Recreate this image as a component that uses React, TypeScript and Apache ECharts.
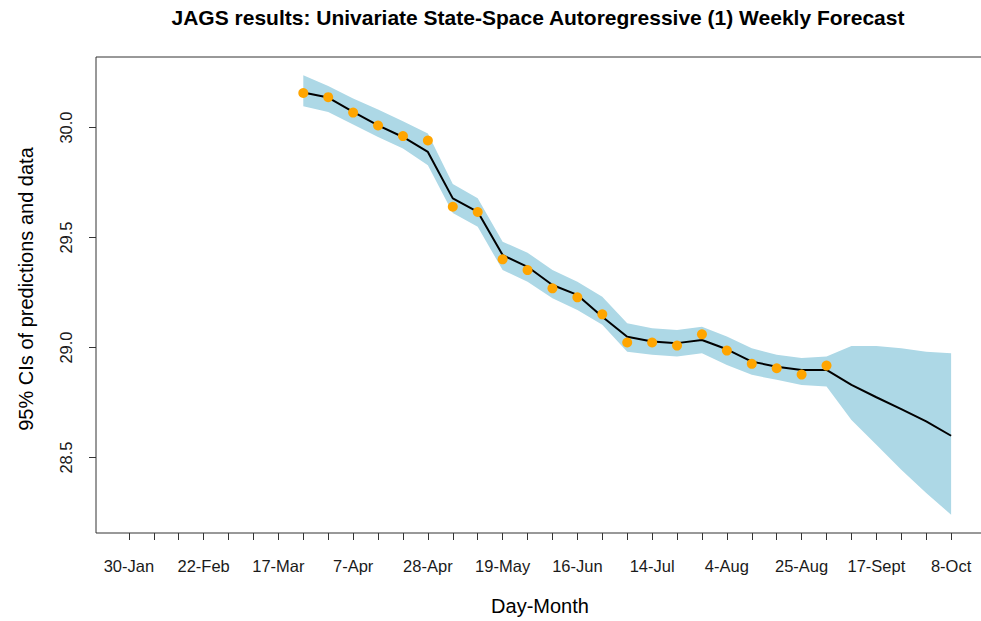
import React, { useEffect, useRef } from "react";
import * as echarts from "echarts";

// x-axis tick labels (every 3 weeks, weeks 0..33)
const tickLabels = [
  "30-Jan", "22-Feb", "17-Mar", "7-Apr", "28-Apr", "19-May",
  "16-Jun", "14-Jul", "4-Aug", "25-Aug", "17-Sept", "8-Oct",
];
const yTicks = [28.5, 29.0, 29.5, 30.0];

// first week index with data
const firstWeek = 7;

// observed data (weeks 7..28)
const observed = [
  30.157, 30.138, 30.068, 30.009, 29.961, 29.941, 29.640, 29.616, 29.401, 29.352,
  29.269, 29.228, 29.151, 29.023, 29.023, 29.009, 29.060, 28.986, 28.926, 28.906,
  28.877, 28.918,
];

// model predictions (weeks 7..33)
const predicted = [
  30.159, 30.136, 30.071, 30.010, 29.957, 29.889, 29.678, 29.617, 29.420, 29.367,
  29.284, 29.239, 29.140, 29.049, 29.027, 29.020, 29.034, 28.992, 28.936, 28.913,
  28.898, 28.898, 28.830, 28.774, 28.720, 28.664, 28.599,
];

// 95% CI upper bound (weeks 7..33)
const upper = [
  30.237, 30.189, 30.132, 30.082, 30.029, 29.973, 29.743, 29.678, 29.481, 29.431,
  29.352, 29.299, 29.231, 29.110, 29.088, 29.080, 29.095, 29.050, 28.997, 28.967,
  28.952, 28.959, 29.007, 29.007, 28.997, 28.981, 28.974,
];

// 95% CI lower bound (weeks 7..33)
const lower = [
  30.097, 30.071, 30.014, 29.957, 29.905, 29.829, 29.611, 29.549, 29.352, 29.299,
  29.224, 29.171, 29.103, 28.981, 28.967, 28.959, 28.974, 28.921, 28.876, 28.853,
  28.830, 28.823, 28.671, 28.558, 28.444, 28.339, 28.240,
];

const FONT = "'Liberation Sans', Arial, sans-serif";

export default function App() {
  const ref = useRef<HTMLDivElement>(null);

  useEffect(() => {
    if (!ref.current) return;
    const chart = echarts.init(ref.current, undefined, { renderer: "svg" });

    const nWeeks = (tickLabels.length - 1) * 3;
    const weekTicks: number[] = [];
    for (let w = 0; w <= nWeeks; w++) weekTicks.push(w);
    const labelTicks = tickLabels.map((_, i) => i * 3);
    const ext = nWeeks * 0.04;

    const predData = predicted.map((v, i) => [firstWeek + i, v]);
    const obsData = observed.map((v, i) => [firstWeek + i, v]);

    chart.setOption({
      animation: false,
      backgroundColor: "#ffffff",
      textStyle: { fontFamily: FONT },
      grid: {
        show: true,
        left: 96,
        top: 57,
        width: 888,
        height: 476,
        borderColor: "#333333",
        borderWidth: 1,
        backgroundColor: "transparent",
        containLabel: false,
      },
      xAxis: {
        type: "value",
        min: -ext,
        max: nWeeks + ext,
        axisLine: { show: false, onZero: false },
        splitLine: { show: false },
        axisTick: {
          show: true,
          customValues: weekTicks,
          length: 7,
          lineStyle: { color: "#333333", width: 1 },
        },
        axisLabel: {
          show: true,
          customValues: labelTicks,
          margin: 24,
          fontSize: 16.5,
          color: "#1a1a1a",
          fontFamily: FONT,
          formatter: (v: number) => tickLabels[Math.round(v / 3)] ?? "",
        },
      },
      yAxis: {
        type: "value",
        min: 28.157,
        max: 30.3205,
        axisLine: { show: false, onZero: false },
        splitLine: { show: false },
        axisTick: {
          show: true,
          customValues: yTicks,
          length: 7,
          lineStyle: { color: "#333333", width: 1 },
        },
        axisLabel: {
          show: true,
          customValues: yTicks,
          rotate: 90,
          margin: 22,
          fontSize: 16.5,
          color: "#1a1a1a",
          fontFamily: FONT,
          formatter: (v: number) => v.toFixed(1),
        },
      },
      graphic: [
        {
          type: "text",
          x: 538,
          y: 17,
          style: {
            text: "JAGS results: Univariate State-Space Autoregressive (1) Weekly Forecast",
            fontSize: 21,
            fontWeight: "bold",
            fontFamily: FONT,
            fill: "#000000",
            align: "center",
            verticalAlign: "middle",
          },
        },
        {
          type: "text",
          x: 540,
          y: 606,
          style: {
            text: "Day-Month",
            fontSize: 20,
            fontFamily: FONT,
            fill: "#000000",
            align: "center",
            verticalAlign: "middle",
          },
        },
        {
          type: "text",
          x: 26,
          y: 289,
          rotation: Math.PI / 2,
          style: {
            text: "95% CIs of predictions and data",
            fontSize: 20,
            fontFamily: FONT,
            fill: "#000000",
            align: "center",
            verticalAlign: "middle",
          },
        },
      ],
      series: [
        {
          type: "custom",
          name: "band",
          silent: true,
          clip: true,
          data: [0],
          z: 1,
          renderItem: (_params: any, api: any) => {
            const top = upper.map((v, i) => api.coord([firstWeek + i, v]));
            const bottom = lower
              .map((v, i) => api.coord([firstWeek + i, v]))
              .reverse();
            return {
              type: "polygon",
              shape: { points: top.concat(bottom) },
              style: { fill: "#ADD8E6", stroke: "none" },
            };
          },
        },
        {
          type: "line",
          name: "predicted",
          data: predData,
          symbol: "none",
          lineStyle: { color: "#000000", width: 2 },
          z: 2,
        },
        {
          type: "scatter",
          name: "observed",
          data: obsData,
          symbol: "circle",
          symbolSize: 10,
          itemStyle: { color: "#FFA500", opacity: 1 },
          z: 3,
        },
      ],
    });

    return () => chart.dispose();
  }, []);

  return (
    <div
      style={{
        position: "absolute",
        left: 0,
        top: 0,
        width: 981,
        height: 621,
        overflow: "hidden",
      }}
    >
      <div ref={ref} style={{ width: 992, height: 621 }} />
    </div>
  );
}
